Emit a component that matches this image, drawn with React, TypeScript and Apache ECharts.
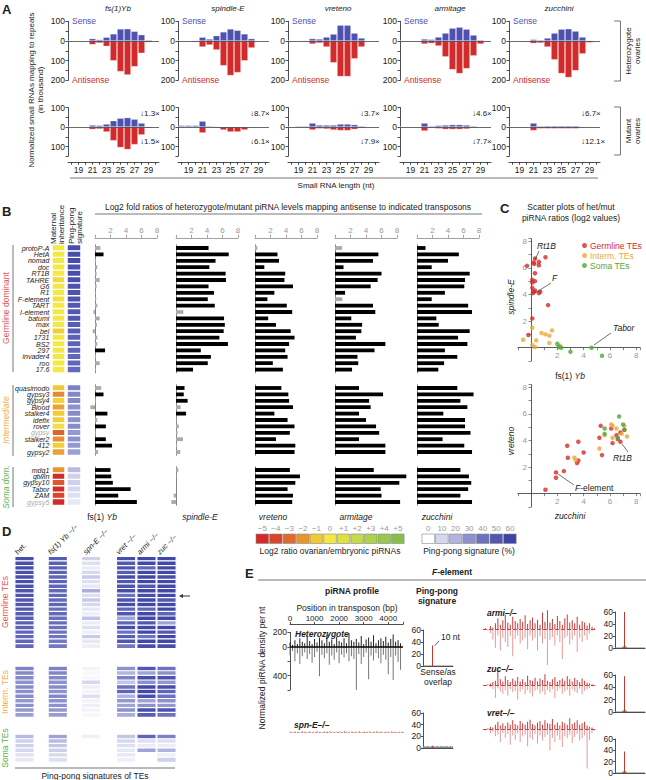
import React, { useEffect, useRef } from "react";
import * as echarts from "echarts";

const FONT = "'Liberation Sans', Arial, Helvetica, sans-serif";
const BLUE = "#4f51b0";
const RED = "#d22b2b";
const C_GERM = "#d42a2a";
const C_INT = "#eba83a";
const C_SOMA = "#4fa83d";

// ---------- Panel A ----------
const LENGTHS = ["18", "19", "20", "21", "22", "23", "24", "25", "26", "27", "28", "29", "30"];
const A_GENES = ["fs(1)Yb", "spindle-E", "vreteno", "armitage", "zucchini"];
const A_HET_SENSE = [
  [0, 0, 2, 12, 7, 19, 36, 61, 62, 49, 32, 5, 0],
  [0, 1, 3, 19, 10, 27, 46, 61, 54, 36, 12, 0, 0],
  [0, 0, 3, 12, 10, 20, 35, 80, 80, 40, 15, 2, 0],
  [0, 0, 2, 10, 8, 20, 40, 65, 70, 60, 30, 5, 0],
  [0, 0, 2, 8, 5, 15, 40, 60, 62, 50, 20, 3, 0],
];
const A_HET_ANTI = [
  [0, 0, 3, 18, 10, 27, 100, 155, 172, 130, 62, 7, 0],
  [0, 2, 5, 30, 20, 45, 125, 175, 160, 100, 35, 0, 0],
  [0, 0, 3, 15, 10, 30, 110, 180, 180, 90, 30, 2, 0],
  [0, 0, 3, 15, 12, 25, 80, 145, 165, 140, 75, 15, 0],
  [0, 0, 3, 12, 10, 30, 95, 165, 185, 150, 65, 8, 0],
];
const A_MUT_SENSE = [
  [0, 0, 2, 10, 8, 15, 32, 45, 48, 40, 20, 3, 0],
  [8, 8, 8, 30, 5, 3, 2, 2, 2, 1, 0, 0, 0],
  [0, 5, 5, 20, 10, 10, 10, 15, 15, 12, 5, 0, 0],
  [0, 0, 2, 20, 5, 8, 10, 12, 12, 10, 5, 0, 0],
  [0, 0, 2, 20, 5, 6, 6, 6, 6, 6, 3, 0, 0],
];
const A_MUT_ANTI = [
  [0, 0, 2, 12, 10, 25, 70, 105, 115, 90, 40, 5, 0],
  [0, 0, 2, 30, 3, 5, 15, 25, 25, 15, 3, 0, 0],
  [0, 0, 2, 15, 8, 10, 15, 18, 18, 12, 5, 0, 0],
  [0, 0, 2, 20, 5, 8, 12, 12, 12, 10, 5, 0, 0],
  [0, 0, 2, 18, 8, 8, 8, 8, 8, 8, 3, 0, 0],
];
const A_SENSE_FOLD = ["1.3", "8.7", "3.7", "4.6", "6.7"];
const A_ANTI_FOLD = ["1.5", "6.1", "7.9", "7.7", "12.1"];

// ---------- Panel B ----------
const GERM_TE = ["protoP-A", "HetA", "nomad", "doc", "RT1B", "TAHRE", "G6", "R1", "F-element", "TART", "I-element", "batumi", "max", "bel", "1731", "BS2", "297", "invader4", "roo", "17.6"];
const INT_TE = ["quasimodo", "gypsy3", "gypsy4", "Blood", "stalker4", "idefix", "rover", "gypsy", "stalker2", "412", "gypsy2"];
const SOMA_TE = ["mdg1", "gtwin", "gypsy10", "Tabor", "ZAM", "gypsy5"];
const GRAY_TE = ["gypsy", "gypsy5"];
const B_COLS = ["fs(1) Yb", "spindle-E", "vreteno", "armitage", "zucchini"];

const YB_GERM = [0.7, 1.1, 0.1, 0.3, 0.2, 0.6, 0.2, 0.1, 0.15, 0.3, -0.2, 0.6, 0.25, -0.3, 0.3, 0.3, 1.3, 0.1, 0.6, 0.1];
const SPNE_GERM = [4.2, 6.8, 5.1, 4.3, 6.4, 6.45, 4.2, 4.9, 4.1, 5.0, 0.95, 6.2, 6.3, 6.15, 5.6, 6.7, 3.2, 4.5, 4.1, 2.2];
const VRET_GERM = [0.3, 2.9, 3.1, 1.2, 3.9, 3.8, 4.9, 2.5, 1.6, 4.1, 4.8, 1.7, 2.7, 4.6, 5.1, 4.4, 3.9, 4.2, 2.3, 3.6];
const ARMI_GERM = [0.9, 5.6, 4.9, 1.1, 6.0, 5.5, 4.6, 1.3, 0.95, 4.9, 5.2, 2.1, 3.5, 3.4, 2.7, 6.5, 5.1, 2.9, 3.0, 2.2];
const ZUC_GERM = [1.1, 5.4, 4.0, 1.9, 6.8, 6.2, 6.1, 3.6, 1.9, 6.6, 7.1, 2.5, 2.8, 6.8, 5.3, 6.5, 3.6, 5.2, 3.5, 2.75];

const YB_INT = [0.8, 1.1, 0.1, -0.6, 1.6, 0.3, 1.4, 0.1, 1.4, 2.2, 0.4];
const SPNE_INT = [1.1, 1.0, 1.5, 0.6, 1.3, 0.05, 0.35, 0.2, 0.9, 0.15, 0.55];
const VRET_INT = [3.4, 4.3, 4.4, 4.9, 2.5, 4.2, 5.1, 4.5, 2.7, 5.2, 5.1];
const ARMI_INT = [3.1, 6.2, 4.4, 4.6, 3.1, 4.0, 5.3, 5.7, 3.1, 6.5, 6.5];
const ZUC_INT = [5.2, 7.3, 5.6, 6.5, 3.4, 6.2, 6.2, 6.9, 3.3, 6.1, 7.1];

const YB_SOMA = [2.0, 2.1, 2.3, 4.6, 3.0, 5.4];
const SPNE_SOMA = [0.3, 0.05, 0.0, 0.0, -0.3, -0.6];
const VRET_SOMA = [4.5, 5.8, 5.2, 4.2, 4.9, 4.8];
const ARMI_SOMA = [5.0, 9.2, 8.3, 5.9, 6.0, 8.4];
const ZUC_SOMA = [5.6, 6.7, 7.0, 6.6, 5.6, 7.1];

const MAT_GERM = [0, 0, 0, 0, 0, -0.5, 0, 0, -0.3, 0, 0, 0, 0, -0.8, 0, 0, 0, 0, 0, 0];
const MAT_INT = [-1, -2.3, -0.7, -1.8, -0.9, -0.8, -0.3, -3.2, -2.2, -0.8, -1.8];
const MAT_SOMA = [-2, -5, -3.5, -5, -4, -5];

const MAT_LEGEND = ["−5", "−4", "−3", "−2", "−1", "0", "+1", "+2", "+3", "+4", "+5"];
const MAT_COLORS = ["#d42a2a", "#d9452c", "#df6a2d", "#e8972f", "#f2c935", "#f4e843", "#dbe142", "#c5d94a", "#aed04d", "#99c84e", "#86bf4a"];
const PP_LEGEND = ["0", "10", "20", "30", "40", "50", "60"];
const PP_COLORS = ["#ffffff", "#d6d8ee", "#b1b4de", "#8d91cd", "#6c72be", "#5258b1", "#3d44a4"];

// ---------- Panel D (ping-pong %) columns: het, Yb, spnE, vret, armi, zuc ----------
const D_COLS = ["het.", "fs(1) Yb −/−", "spn-E −/−", "vret −/−", "armi −/−", "zuc −/−"];
const PP_GERM = [
  [55, 55, 56, 54, 55, 55, 53, 52, 52, 50, 50, 50, 48, 48, 47, 46, 45, 44, 44, 43],
  [48, 47, 47, 46, 45, 46, 45, 44, 44, 43, 45, 42, 43, 41, 42, 40, 40, 39, 38, 38],
  [12, 8, 5, 10, 14, 8, 6, 22, 8, 14, 10, 6, 4, 16, 5, 8, 4, 14, 6, 4],
  [55, 50, 52, 48, 55, 50, 52, 55, 40, 52, 55, 45, 50, 25, 45, 55, 40, 48, 50, 38],
  [58, 58, 45, 58, 58, 58, 50, 58, 55, 58, 58, 45, 58, 58, 50, 58, 58, 40, 58, 55],
  [58, 58, 58, 58, 55, 58, 58, 58, 58, 50, 58, 58, 45, 58, 25, 58, 50, 58, 58, 55],
];
const PP_INT = [
  [35, 33, 33, 30, 32, 30, 32, 28, 30, 28, 26],
  [35, 34, 33, 30, 32, 30, 33, 30, 30, 28, 27],
  [3, 2, 2, 10, 4, 3, 8, 3, 4, 3, 2],
  [30, 20, 35, 15, 40, 45, 20, 28, 25, 30, 22],
  [50, 25, 55, 30, 58, 58, 55, 25, 30, 55, 48],
  [40, 30, 52, 28, 55, 45, 40, 30, 28, 52, 40],
];
const PP_SOMA = [
  [18, 12, 12, 10, 8, 6],
  [25, 18, 15, 12, 10, 8],
  [4, 0, 0, 0, 0, 0],
  [15, 10, 8, 6, 6, 4],
  [45, 8, 5, 25, 0, 0],
  [35, 8, 5, 20, 4, 12],
];

// ---------- Panel E ----------
const POS = [0, 100, 200, 300, 400, 500, 600, 700, 800, 900, 1000, 1100, 1200, 1300, 1400, 1500, 1600, 1700, 1800, 1900, 2000, 2100, 2200, 2300, 2400, 2500, 2600, 2700, 2800, 2900, 3000, 3100, 3200, 3300, 3400, 3500, 3600, 3700, 3800, 3900, 4000, 4100, 4200, 4300, 4400, 4500];
const HET_S = [60, 30, 90, 40, 120, 70, 50, 150, 80, 40, 110, 60, 130, 90, 50, 170, 70, 100, 40, 140, 80, 60, 120, 50, 190, 90, 70, 110, 60, 150, 40, 100, 130, 70, 160, 50, 90, 120, 80, 140, 60, 110, 170, 70, 90, 50];
const HET_AS = [120, 60, 200, 90, 240, 130, 80, 170, 100, 220, 140, 70, 410, 110, 160, 90, 250, 120, 180, 80, 230, 110, 150, 90, 200, 130, 170, 620, 100, 240, 140, 80, 450, 120, 190, 90, 160, 230, 110, 180, 380, 140, 460, 120, 210, 320];
const SPNE_S = [8, 0, 12, 5, 0, 15, 8, 4, 12, 0, 8, 18, 4, 0, 12, 8, 15, 4, 0, 8, 12, 4, 18, 8, 0, 12, 4, 8, 15, 0, 8, 4, 12, 0, 8, 15, 4, 12, 0, 8, 4, 12, 8, 0, 4, 8];
const SPNE_AS = [12, 4, 8, 15, 0, 8, 18, 4, 12, 8, 0, 15, 8, 4, 12, 18, 0, 8, 4, 15, 8, 12, 0, 4, 8, 15, 12, 0, 8, 4, 18, 8, 0, 12, 4, 8, 15, 4, 0, 12, 8, 4, 15, 8, 0, 12];
const ARMI_S = [0, 10, 0, 40, 20, 80, 150, 60, 120, 200, 90, 60, 170, 110, 80, 140, 100, 190, 70, 120, 160, 80, 130, 60, 230, 100, 260, 90, 140, 70, 180, 110, 60, 150, 200, 90, 120, 80, 170, 60, 110, 90, 50, 80, 30, 10];
const ARMI_AS = [10, 0, 20, 60, 150, 260, 90, 300, 120, 180, 250, 100, 380, 140, 90, 200, 160, 120, 280, 90, 160, 120, 300, 100, 200, 140, 500, 150, 110, 230, 90, 180, 420, 130, 100, 220, 150, 90, 320, 120, 180, 90, 150, 60, 30, 10];
const ZUC_S = [0, 0, 10, 20, 40, 60, 210, 80, 50, 120, 70, 40, 90, 60, 110, 50, 80, 40, 130, 70, 60, 100, 50, 90, 70, 150, 60, 40, 80, 110, 50, 70, 90, 60, 120, 80, 50, 100, 70, 40, 90, 60, 30, 20, 10, 0];
const ZUC_AS = [0, 10, 0, 30, 60, 180, 50, 90, 120, 70, 150, 60, 100, 80, 200, 90, 60, 130, 70, 110, 160, 80, 60, 120, 90, 140, 70, 100, 60, 180, 80, 50, 120, 90, 70, 150, 60, 90, 110, 50, 130, 80, 60, 40, 20, 0];
const VRET_S = [0, 0, 10, 30, 20, 60, 100, 50, 80, 40, 90, 60, 120, 70, 50, 110, 80, 60, 100, 130, 70, 50, 90, 110, 60, 120, 80, 70, 140, 60, 90, 50, 100, 80, 60, 150, 70, 90, 120, 60, 80, 100, 50, 30, 20, 0];
const VRET_AS = [0, 20, 10, 60, 40, 100, 80, 180, 60, 120, 70, 220, 90, 150, 60, 180, 100, 80, 240, 120, 150, 70, 200, 90, 160, 110, 80, 300, 120, 180, 90, 150, 250, 100, 130, 80, 190, 110, 70, 160, 130, 90, 550, 150, 60, 20];
const OVERLAP = ["1", "2", "3", "4", "5", "6", "7", "8", "9", "10", "11", "12", "13", "14", "15", "16", "17", "18", "19", "20", "21", "22", "23", "24", "25", "26", "27", "28", "29", "30"];
const PPE_HET = [1, 1, 1, 1, 1, 1, 1, 1, 1, 34, 1, 1, 1, 1, 1, 1, 1, 1, 1, 1, 1, 1, 1, 1, 1, 1, 1, 1, 1, 1];
const PPE_SPNE = [3, 3, 2, 3, 3, 3, 2, 3, 3, 4, 3, 3, 2, 3, 3, 3, 2, 3, 3, 3, 3, 2, 3, 3, 3, 2, 3, 3, 2, 3];
const PPE_ARMI = [1, 1, 1, 1, 1, 1, 1, 2, 3, 60, 3, 2, 1, 1, 1, 1, 1, 1, 1, 1, 1, 1, 1, 1, 1, 1, 1, 1, 1, 1];
const PPE_ZUC = [1, 1, 1, 1, 1, 1, 1, 2, 3, 58, 3, 2, 1, 1, 1, 1, 1, 1, 1, 1, 1, 1, 1, 1, 1, 1, 1, 1, 1, 1];
const PPE_VRET = [1, 1, 1, 1, 1, 1, 1, 2, 3, 38, 3, 2, 1, 1, 1, 1, 1, 1, 1, 1, 1, 1, 1, 1, 1, 1, 1, 1, 1, 1];

function buildOption() {
  const grids: any[] = [];
  const xAxes: any[] = [];
  const yAxes: any[] = [];
  const series: any[] = [];
  const graphic: any[] = [];
  const matSeries: number[] = [];
  const ppSeries: number[] = [];

  const addGrid = (l: number, t: number, w: number, h: number, xa: any, ya: any) => {
    const i = grids.length;
    grids.push({ left: l, top: t, width: w, height: h, containLabel: false });
    xAxes.push({ gridIndex: i, ...xa });
    yAxes.push({ gridIndex: i, ...ya });
    return i;
  };
  const txt = (x: number, y: number, text: string, o: any = {}) => {
    const style: any = {
      text,
      fill: o.fill || "#222",
      fontSize: o.size || 8,
      fontFamily: FONT,
      fontStyle: o.italic ? "italic" : "normal",
      fontWeight: o.bold ? "bold" : "normal",
      align: o.align || "left",
      verticalAlign: o.valign || "middle",
    };
    if (o.lh) style.lineHeight = o.lh;
    if (o.rich) style.rich = o.rich;
    graphic.push({ type: "text", x, y, rotation: o.rot || 0, silent: true, z: 100, style });
  };
  const line = (x1: number, y1: number, x2: number, y2: number, stroke = "#777", lw = 1) => {
    graphic.push({ type: "line", silent: true, z: 100, shape: { x1, y1, x2, y2 }, style: { stroke, lineWidth: lw } });
  };
  const rect = (x: number, y: number, w: number, h: number, fill: string, stroke = "#999") => {
    graphic.push({ type: "rect", silent: true, z: 100, shape: { x, y, width: w, height: h }, style: { fill, stroke, lineWidth: 0.6 } });
  };
  const zeroLine = (color = "#444", width = 0.8, type = "solid") => ({
    silent: true,
    symbol: ["none", "none"],
    label: { show: false },
    lineStyle: { color, width, type },
    data: [{ yAxis: 0 }],
  });
  const hide = { show: false };
  const richFs = (bold = false) => ({
    n: { fontSize: 8.5, fontFamily: FONT, fill: "#222", fontWeight: bold ? "bold" : "normal" },
    i: { fontSize: 8.5, fontFamily: FONT, fontStyle: "italic", fill: "#222", fontWeight: bold ? "bold" : "normal" },
  });

  // ================= Panel A =================
  const A_LEFTS = [68, 178, 288, 400, 509];
  const yAx = (min: number) => ({
    type: "value",
    min,
    max: 100,
    interval: 50,
    axisLine: { show: true, onZero: false, lineStyle: { color: "#222", width: 0.8 } },
    axisTick: { show: true, length: 2.5, lineStyle: { color: "#222", width: 0.8 } },
    splitLine: hide,
    axisLabel: { fontSize: 8.5, color: "#222", margin: 3, fontFamily: FONT, formatter: (v: number) => (v % 100 === 0 ? String(Math.abs(v)) : "") },
  });
  A_GENES.forEach((g, i) => {
    const l = A_LEFTS[i];
    const g1 = addGrid(l, 21.3, 91, 59.1, { type: "category", data: LENGTHS, show: false }, yAx(-200));
    series.push({
      type: "bar", xAxisIndex: g1, yAxisIndex: g1, data: A_HET_SENSE[i], barGap: "-100%", barCategoryGap: "3%",
      itemStyle: { color: BLUE, borderColor: "rgba(255,255,255,0.55)", borderWidth: 0.5 },
      markLine: zeroLine(),
    });
    series.push({
      type: "bar", xAxisIndex: g1, yAxisIndex: g1, data: A_HET_ANTI[i].map((v) => -v), barGap: "-100%", barCategoryGap: "3%",
      itemStyle: { color: RED, borderColor: "rgba(255,255,255,0.55)", borderWidth: 0.5 },
    });
    const g2 = addGrid(l, 107.5, 91, 48.75, {
      type: "category", data: LENGTHS, position: "bottom", offset: 6,
      axisLine: { show: true, onZero: false, lineStyle: { color: "#222", width: 0.8 } },
      axisTick: { show: true, alignWithLabel: true, interval: 0, length: 2.5, lineStyle: { color: "#222", width: 0.8 } },
      axisLabel: { fontSize: 8.5, color: "#222", margin: 3, fontFamily: FONT, interval: (idx: number, val: string) => Number(val) % 2 === 1 },
    }, yAx(-150));
    series.push({
      type: "bar", xAxisIndex: g2, yAxisIndex: g2, data: A_MUT_SENSE[i], barGap: "-100%", barCategoryGap: "3%",
      itemStyle: { color: BLUE, borderColor: "rgba(255,255,255,0.55)", borderWidth: 0.5 },
      markLine: zeroLine(),
    });
    series.push({
      type: "bar", xAxisIndex: g2, yAxisIndex: g2, data: A_MUT_ANTI[i].map((v) => -v), barGap: "-100%", barCategoryGap: "3%",
      itemStyle: { color: RED, borderColor: "rgba(255,255,255,0.55)", borderWidth: 0.5 },
    });
    txt(l + 50, 8, g, { italic: true, align: "center", size: 8 });
    txt(l + 4, 21, "Sense", { fill: BLUE, size: 8.5 });
    txt(l + 4, 80, "Antisense", { fill: RED, size: 8.5 });
    txt(l + 72, 113, "↓" + A_SENSE_FOLD[i] + "×", { size: 8 });
    txt(l + 72, 141, "↓" + A_ANTI_FOLD[i] + "×", { size: 8 });
  });
  txt(2, 9, "A", { bold: true, size: 13 });
  txt(36, 90, "Normalized small RNAs mapping to repeats\n(in thousand)", { rot: Math.PI / 2, align: "center", size: 8, lh: 9 });
  line(70, 178, 598, 178, "#777", 1);
  txt(336, 185, "Small RNA length (nt)", { align: "center", size: 8 });
  line(620.5, 21, 620.5, 81, "#555", 0.8);
  line(614, 21, 620.5, 21, "#555", 0.8);
  line(614, 81, 620.5, 81, "#555", 0.8);
  line(620.5, 107, 620.5, 155, "#555", 0.8);
  line(614, 107, 620.5, 107, "#555", 0.8);
  line(614, 155, 620.5, 155, "#555", 0.8);
  txt(633, 51, "Heterozygote\novaries", { rot: Math.PI / 2, align: "center", size: 8, lh: 9 });
  txt(633, 131, "Mutant\novaries", { rot: Math.PI / 2, align: "center", size: 8, lh: 9 });

  // ================= Panel B =================
  txt(2, 211, "B", { bold: true, size: 13 });
  txt(57.5, 244, "Maternal\ninheritance", { rot: Math.PI / 2, align: "left", size: 8, lh: 8.5 });
  txt(75.5, 244, "Ping-pong\nsignature", { rot: Math.PI / 2, align: "left", size: 8, lh: 8.5 });
  txt(288, 207, "Log2 fold ratios of heterozygote/mutant piRNA levels mapping antisense to indicated transposons", { align: "center", size: 8.5 });
  line(95, 214, 482, 214, "#777", 1);

  const B_LEFTS = [95, 176, 255, 335, 417];
  const PITCH = 6.4;
  const bGroups = [
    { names: GERM_TE, top: 244.8, vals: [YB_GERM, SPNE_GERM, VRET_GERM, ARMI_GERM, ZUC_GERM], mat: MAT_GERM, pp: PP_GERM[0], axis: true },
    { names: INT_TE, top: 384.8, vals: [YB_INT, SPNE_INT, VRET_INT, ARMI_INT, ZUC_INT], mat: MAT_INT, pp: PP_INT[0], axis: false },
    { names: SOMA_TE, top: 466.8, vals: [YB_SOMA, SPNE_SOMA, VRET_SOMA, ARMI_SOMA, ZUC_SOMA], mat: MAT_SOMA, pp: PP_SOMA[0], axis: false },
  ];
  bGroups.forEach((g) => {
    const h = g.names.length * PITCH;
    B_LEFTS.forEach((l, c) => {
      const gi = addGrid(l, g.top, 62, h, {
        type: "value", min: 0, max: 8, interval: 2, show: g.axis, position: "top", offset: 7,
        axisLine: { show: true, onZero: false, lineStyle: { color: "#888", width: 0.8 } },
        axisTick: { show: true, length: 3, lineStyle: { color: "#888", width: 0.8 } },
        axisLabel: { fontSize: 8, color: "#999", margin: 3, fontFamily: FONT, formatter: (v: number) => (v === 0 ? "" : String(v)) },
        splitLine: hide,
      }, {
        type: "category", data: g.names, inverse: true,
        axisLine: { show: true, onZero: false, lineStyle: { color: "#777", width: 0.9 } },
        axisTick: hide, axisLabel: hide, splitLine: hide,
      });
      series.push({
        type: "bar", xAxisIndex: gi, yAxisIndex: gi, data: g.vals[c], barWidth: 3.8, clip: false,
        itemStyle: { color: (p: any) => (p.value >= 1 ? "#000" : "#aaa") },
      });
    });
    const gm = addGrid(52.3, g.top, 12.4, h, { type: "category", data: ["m"], show: false }, {
      type: "category", data: g.names, inverse: true,
      axisLine: hide, axisTick: hide, splitLine: hide,
      axisLabel: {
        show: true, interval: 0, fontSize: 7, fontStyle: "italic", fontFamily: FONT, margin: 3, lineHeight: 6.4,
        color: (v: string) => (GRAY_TE.indexOf(v) >= 0 ? "#aaa" : "#222"),
      },
    });
    matSeries.push(series.length);
    series.push({ type: "heatmap", xAxisIndex: gm, yAxisIndex: gm, data: g.mat.map((v, j) => [0, j, v]), itemStyle: { borderColor: "#fff", borderWidth: 1.4 } });
    const gp = addGrid(67.3, g.top, 13.4, h, { type: "category", data: ["p"], show: false }, { type: "category", data: g.names, inverse: true, show: false });
    ppSeries.push(series.length);
    series.push({ type: "heatmap", xAxisIndex: gp, yAxisIndex: gp, data: g.pp.map((v, j) => [0, j, v]), itemStyle: { borderColor: "#fff", borderWidth: 1.4 } });
  });
  line(13, 245, 13, 372, "#777", 1);
  txt(6, 308, "Germline dominant", { rot: Math.PI / 2, align: "center", size: 8.5, fill: "#e05555" });
  line(13, 385, 13, 456, "#777", 1);
  txt(6, 420, "Intermediate", { rot: Math.PI / 2, align: "center", size: 8.5, fill: "#eeb040", italic: true });
  line(13, 467, 13, 507, "#777", 1);
  txt(6, 487, "Soma dom.", { rot: Math.PI / 2, align: "center", size: 8.5, fill: "#5cb050", italic: true });
  const bLabX = [102, 200, 273, 356, 437];
  txt(bLabX[0], 517, "{n|fs(1) }{i|Yb}", { align: "center", size: 8.5, rich: richFs() });
  for (let c = 1; c < 5; c++) txt(bLabX[c], 517, B_COLS[c], { align: "center", size: 8.5, italic: true });
  MAT_LEGEND.forEach((lab, k) => {
    const x = 256 + k * 13.55;
    rect(x, 534, 12.6, 9.5, MAT_COLORS[k], "#888");
    txt(x + 6.3, 528, lab, { align: "center", size: 8, fill: "#999" });
  });
  txt(330, 551, "Log2 ratio ovarian/embryonic piRNAs", { align: "center", size: 8.5 });
  PP_LEGEND.forEach((lab, k) => {
    const x = 422 + k * 13.6;
    rect(x, 534, 12.6, 9.5, PP_COLORS[k], "#888");
    txt(x + 6.3, 528, lab, { align: "center", size: 8, fill: "#999" });
  });
  txt(469, 551, "Ping-pong signature (%)", { align: "center", size: 8.5 });

  // ================= Panel C =================
  txt(500, 208, "C", { bold: true, size: 13 });
  txt(571, 207, "Scatter plots of het/mut", { align: "center", size: 8.5 });
  txt(571, 217.5, "piRNA ratios (log2 values)", { align: "center", size: 8.5 });
  const SX_L = 517.85, SX_W = 122.3, S_H = 122.4;
  const xOff = -(S_H * 1 / 9.2);
  const yOff = -(SX_W * 1 / 9.3);
  const sAxis = (minv: number, maxv: number, pos: string, off: number) => ({
    type: "value", min: minv, max: maxv, interval: 1, position: pos, offset: off,
    axisLine: { show: true, onZero: false, lineStyle: { color: "#333", width: 0.8 } },
    axisTick: { show: true, length: 2.5, lineStyle: { color: "#555", width: 0.7 } },
    axisLabel: { fontSize: 8, color: "#999", fontFamily: FONT, margin: 4, formatter: (v: number) => (v > 0 && v % 2 === 0 ? String(v) : "") },
    splitLine: hide,
  });
  const groupsC = [
    { name: "Germline TEs", color: C_GERM, yb: YB_GERM, spne: SPNE_GERM, zuc: ZUC_GERM, vret: VRET_GERM },
    { name: "Interm. TEs", color: C_INT, yb: YB_INT, spne: SPNE_INT, zuc: ZUC_INT, vret: VRET_INT },
    { name: "Soma TEs", color: C_SOMA, yb: YB_SOMA, spne: SPNE_SOMA, zuc: ZUC_SOMA, vret: VRET_SOMA },
  ];
  const sc1 = addGrid(SX_L, 238.6, SX_W, S_H, sAxis(-1, 8.3, "bottom", xOff), sAxis(-1, 8.2, "left", yOff));
  const sc2 = addGrid(SX_L, 384.6, SX_W, S_H, sAxis(-1, 8.3, "bottom", xOff), sAxis(-1, 8.2, "left", yOff));
  groupsC.forEach((g) => {
    series.push({ type: "scatter", name: g.name, xAxisIndex: sc1, yAxisIndex: sc1, symbolSize: 4.5, itemStyle: { color: g.color }, data: g.yb.map((x, i) => [x, g.spne[i]]) });
    series.push({ type: "scatter", name: g.name, xAxisIndex: sc2, yAxisIndex: sc2, symbolSize: 4.5, itemStyle: { color: g.color }, data: g.zuc.map((x, i) => [x, g.vret[i]]) });
  });
  txt(511, 297, "spindle-E", { rot: Math.PI / 2, align: "center", size: 8.5, italic: true });
  txt(570, 376, "{n|fs(1) }{i|Yb}", { align: "center", size: 8.5, rich: richFs() });
  txt(511, 441, "vreteno", { rot: Math.PI / 2, align: "center", size: 8.5, italic: true });
  txt(570, 516, "zucchini", { align: "center", size: 8.5, italic: true });
  txt(537, 246, "Rt1B", { italic: true, size: 8.5 });
  line(539, 251, 535, 260, "#333", 0.7);
  txt(552, 278, "F", { italic: true, size: 8.5 });
  line(551, 283, 535, 293, "#333", 0.7);
  txt(613, 328, "Tabor", { italic: true, size: 8.5 });
  line(611, 333, 594, 345, "#333", 0.7);
  txt(613, 458, "Rt1B", { italic: true, size: 8.5 });
  line(628, 452, 622, 444, "#333", 0.7);
  txt(575, 488, "{i|F}{n|-element}", { size: 8.5, rich: richFs() });
  line(574, 485, 558, 474, "#333", 0.7);

  // ================= Panel D =================
  txt(2, 531, "D", { bold: true, size: 13 });
  const D_LEFTS = [15.1, 48.4, 81.7, 116.7, 137.1, 157.1];
  const dGroups = [
    { top: 556.6, h: 91.8, vals: PP_GERM },
    { top: 666.4, h: 50.8, vals: PP_INT },
    { top: 734.4, h: 27.6, vals: PP_SOMA },
  ];
  dGroups.forEach((g) => {
    D_LEFTS.forEach((l, c) => {
      const rows = g.vals[c].map((_, j) => String(j));
      const gi = addGrid(l, g.top, 18.8, g.h, { type: "category", data: ["c"], show: false }, { type: "category", data: rows, inverse: true, show: false });
      ppSeries.push(series.length);
      series.push({ type: "heatmap", xAxisIndex: gi, yAxisIndex: gi, data: g.vals[c].map((v, j) => [0, j, v]), itemStyle: { borderColor: "#fff", borderWidth: 1.2 } });
    });
  });
  const dHeadX = [19, 52, 87, 120, 141, 161];
  D_COLS.forEach((lab, c) => txt(dHeadX[c], 556, lab, { rot: Math.PI / 4, align: "left", valign: "bottom", size: 7.5, italic: c > 0 }));
  txt(5, 602, "Germline TEs", { rot: Math.PI / 2, align: "center", size: 8.5, fill: "#e05555" });
  txt(5, 692, "Interm. TEs", { rot: Math.PI / 2, align: "center", size: 8.5, fill: "#eeb040" });
  txt(5, 748, "Soma TEs", { rot: Math.PI / 2, align: "center", size: 8.5, fill: "#5cb050" });
  line(181, 596, 190, 596, "#333", 1);
  graphic.push({ type: "polygon", silent: true, z: 100, shape: { points: [[179, 596], [183, 594], [183, 598]] }, style: { fill: "#333" } });
  line(15, 768, 175, 768, "#777", 1.2);
  txt(95, 776, "Ping-pong signatures of TEs", { align: "center", size: 8.5 });

  // ================= Panel E =================
  txt(245, 573, "E", { bold: true, size: 13 });
  txt(452, 572, "{i|F}{n|-element}", { align: "center", size: 8.5, rich: richFs(true) });
  line(258, 580, 646, 580, "#777", 1.2);
  txt(352, 591, "piRNA profile", { align: "center", size: 8.5, bold: true });
  txt(437, 596, "Ping-pong\nsignature", { align: "center", size: 8.5, bold: true, lh: 10 });
  txt(347, 607.5, "Position in transposon (bp)", { align: "center", size: 8.5 });
  txt(262, 668, "Normalized piRNA density per nt", { rot: Math.PI / 2, align: "center", size: 8.5 });

  const eAx = { lineStyle: { color: "#222", width: 0.8 } };
  const gh = addGrid(290, 632.4, 113, 57.6, {
    type: "value", min: 0, max: 4600, interval: 1000, position: "top", offset: 8,
    axisLine: { show: true, onZero: false, ...eAx }, axisTick: { show: true, length: 2.5, ...eAx },
    axisLabel: { fontSize: 8, color: "#222", margin: 2, fontFamily: FONT, formatter: (v: number) => (v <= 4000 ? String(v) : "") },
    splitLine: hide,
  }, {
    type: "value", min: -600, max: 200, interval: 200,
    axisLine: { show: true, onZero: false, ...eAx }, axisTick: { show: true, length: 2.5, ...eAx },
    axisLabel: { fontSize: 8.5, color: "#222", margin: 3, fontFamily: FONT, formatter: (v: number) => (v === 200 ? "200" : v === 0 ? "0" : v === -400 ? "400" : "") },
    splitLine: hide,
  });
  series.push({ type: "bar", xAxisIndex: gh, yAxisIndex: gh, barWidth: 1, barGap: "-100%", data: POS.map((p, i) => [p, -HET_AS[i]]), itemStyle: { color: "#777" } });
  series.push({ type: "bar", xAxisIndex: gh, yAxisIndex: gh, barWidth: 1, barGap: "-100%", data: POS.map((p, i) => [p, HET_S[i]]), itemStyle: { color: "#222" }, markLine: zeroLine("#000", 1.6) });
  txt(295, 634, "Heterozygote", { bold: true, italic: true, size: 8.5 });

  const profile = (l: number, base: number, s: number[], as: number[], max: number, sc: string, ac: string, lw: number) => {
    const top = base - max * 0.072;
    const g = addGrid(l, top, 114, (max + 600) * 0.072, { type: "value", min: 0, max: 4600, show: false }, { type: "value", min: -600, max, show: false });
    series.push({ type: "bar", xAxisIndex: g, yAxisIndex: g, barWidth: 1, barGap: "-100%", data: POS.map((p, i) => [p, -as[i]]), itemStyle: { color: ac } });
    series.push({ type: "bar", xAxisIndex: g, yAxisIndex: g, barWidth: 1, barGap: "-100%", data: POS.map((p, i) => [p, s[i]]), itemStyle: { color: sc }, markLine: zeroLine("#c44", lw, "dashed") });
  };
  profile(290, 732, SPNE_S, SPNE_AS, 200, "#e08888", "#eaa", 0.6);
  txt(294, 725, "spn-E–/–", { bold: true, italic: true, size: 8.5 });
  profile(483, 629, ARMI_S, ARMI_AS, 300, "#c33a3a", "#e39a9a", 1);
  txt(487, 613, "armi–/–", { bold: true, italic: true, size: 8.5 });
  profile(483, 685, ZUC_S, ZUC_AS, 300, "#c33a3a", "#e39a9a", 1);
  txt(487, 669, "zuc–/–", { bold: true, italic: true, size: 8.5 });
  profile(483, 729, VRET_S, VRET_AS, 300, "#c33a3a", "#e39a9a", 1);
  txt(487, 713, "vret–/–", { bold: true, italic: true, size: 8.5 });

  const ppHist = (l: number, top: number, h: number, vals: number[]) => {
    const g = addGrid(l, top, 30, h, {
      type: "category", data: OVERLAP, axisLine: { show: true, onZero: false, ...eAx }, axisTick: hide, axisLabel: hide,
    }, {
      type: "value", min: 0, max: 60, interval: 20,
      axisLine: { show: true, ...eAx }, axisTick: { show: true, length: 2, ...eAx },
      axisLabel: { fontSize: 8.5, color: "#222", margin: 2, fontFamily: FONT }, splitLine: hide,
    });
    series.push({ type: "bar", xAxisIndex: g, yAxisIndex: g, data: vals, barCategoryGap: "15%", itemStyle: { color: (p: any) => (p.dataIndex === 9 ? "#c0392b" : "#888") } });
  };
  ppHist(423, 630, 36, PPE_HET);
  ppHist(423, 713, 35, PPE_SPNE);
  ppHist(615, 612, 36, PPE_ARMI);
  ppHist(615, 675, 37, PPE_ZUC);
  ppHist(615, 739, 34, PPE_VRET);
  txt(441, 637, "10 nt", { size: 8.5 });
  line(439, 641, 434.5, 646, "#333", 0.7);
  txt(438, 677, "Sense/as\noverlap", { align: "center", size: 8.5, lh: 10 });

  return {
    animation: false,
    backgroundColor: "#fff",
    textStyle: { fontFamily: FONT },
    grid: grids,
    xAxis: xAxes,
    yAxis: yAxes,
    series,
    visualMap: [
      { type: "continuous", show: false, min: -5, max: 5, dimension: 2, seriesIndex: matSeries, inRange: { color: MAT_COLORS } },
      { type: "continuous", show: false, min: 0, max: 60, dimension: 2, seriesIndex: ppSeries, inRange: { color: PP_COLORS } },
    ],
    legend: {
      orient: "vertical", left: 577, top: 236, itemWidth: 5, itemHeight: 5, itemGap: 1, icon: "circle", selectedMode: false,
      textStyle: { fontSize: 8.5, fontFamily: FONT, padding: [0, 0, 0, -2] },
      data: [
        { name: "Germline TEs", textStyle: { color: C_GERM } },
        { name: "Interm. TEs", textStyle: { color: C_INT } },
        { name: "Soma TEs", textStyle: { color: C_SOMA } },
      ],
    },
    graphic,
  };
}

export default function App() {
  const ref = useRef<HTMLDivElement>(null);
  useEffect(() => {
    document.body.style.margin = "0";
    const chart = echarts.init(ref.current as HTMLDivElement, null, { renderer: "svg", width: 646, height: 780 });
    chart.setOption(buildOption() as any);
    return () => chart.dispose();
  }, []);
  return <div ref={ref} style={{ width: 646, height: 780, background: "#fff" }} />;
}
